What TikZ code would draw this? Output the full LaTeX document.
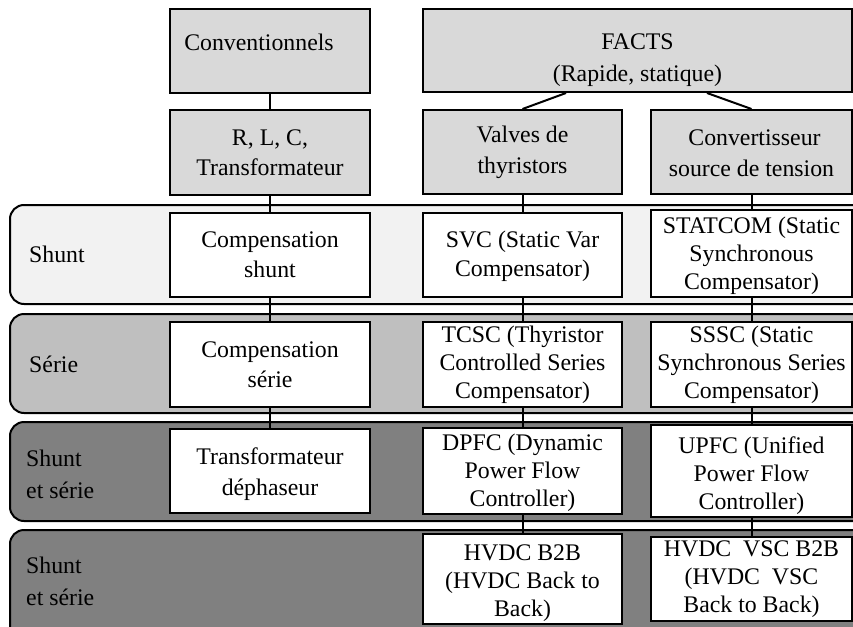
\documentclass[tikz,border=0pt]{standalone}
\usepackage{fontspec}
\setmainfont{Liberation Serif}
\definecolor{topgray}{HTML}{D9D9D9}
\definecolor{bandA}{HTML}{F2F2F2}
\definecolor{bandB}{HTML}{BFBFBF}
\definecolor{bandC}{HTML}{808080}
\newcommand{\lowerby}[1]{\rule{0pt}{#1}}
\tikzset{
  basebox/.style={draw=black, line width=2pt, align=center, inner sep=2pt,
    font=\fontsize{23.8}{29}\selectfont},
  topbox/.style={basebox, fill=topgray},
  devbox/.style={basebox, fill=white},
  band/.style={draw=black, line width=2pt, rounded corners=14pt},
  bandlabel/.style={anchor=west, align=left, inner sep=0pt,
    font=\fontsize{23.8}{32}\selectfont},
  link/.style={draw=black, line width=2pt}
}
\begin{document}
\begin{tikzpicture}[x=1pt,y=-1pt]
\useasboundingbox (0,0) rectangle (853,626);
\clip (0,0) rectangle (853,626);
% bands
\path[band, fill=bandA] (10,205) rectangle (880,304);
\path[band, fill=bandB] (10,314) rectangle (880,413);
\path[band, fill=bandC] (10,422) rectangle (880,521);
\path[band, fill=bandC] (10,530) rectangle (880,660);
% band labels
\node[bandlabel] (lshunt) at (29,254) {Shunt};
\node[bandlabel] (lserie) at (29,364) {Série};
\node[bandlabel] (lse1) at (26,474) {Shunt\\et série};
\node[bandlabel] (lse2) at (26,581) {Shunt\\et série};
% top boxes
\node[topbox, minimum width=200pt, minimum height=84pt] (conv) at (270,51)
  {\lowerby{36pt}Conventionnels\hspace*{22pt}\\\strut};
\node[topbox, minimum width=429pt, minimum height=83pt, font=\fontsize{23.8}{32}\selectfont] (facts) at (637.5,50.5)
  {\lowerby{35pt}FACTS\\(Rapide, statique)};
\node[topbox, minimum width=200pt, minimum height=85pt, font=\fontsize{23.8}{30}\selectfont] (rlc) at (270,152.5)
  {R, L, C,\\Transformateur};
\node[topbox, minimum width=199pt, minimum height=84pt, font=\fontsize{23.8}{31}\selectfont] (valves) at (522.5,152)
  {\lowerby{18pt}Valves de\\thyristors};
\node[topbox, minimum width=201pt, minimum height=84pt, font=\fontsize{23.8}{31}\selectfont] (vsc) at (751.5,152)
  {\lowerby{18pt}\hspace*{6pt}Convertisseur\\source de tension};
% row shunt
\node[devbox, minimum width=200pt, minimum height=84pt, font=\fontsize{23.8}{30}\selectfont] (cshunt) at (270,255)
  {Compensation\\shunt};
\node[devbox, minimum width=199pt, minimum height=84pt] (svc) at (522.5,255)
  {\lowerby{20pt}SVC (Static Var\\Compensator)};
\node[devbox, minimum width=201pt, minimum height=85pt, font=\fontsize{23.8}{28}\selectfont] (statcom) at (751.5,253.5)
  {\lowerby{22pt}STATCOM (Static\\Synchronous\\Compensator)};
% row serie
\node[devbox, minimum width=200pt, minimum height=85pt, font=\fontsize{23.8}{30}\selectfont] (cserie) at (270,364.5)
  {Compensation\\série};
\node[devbox, minimum width=199pt, minimum height=85pt, font=\fontsize{23.8}{28}\selectfont] (tcsc) at (522.5,364.5)
  {TCSC (Thyristor\\Controlled Series\\Compensator)};
\node[devbox, minimum width=201pt, minimum height=85pt, font=\fontsize{23.8}{28}\selectfont] (sssc) at (751.5,364.5)
  {SSSC (Static\\Synchronous Series\\Compensator)};
% row shunt et serie 1
\node[devbox, minimum width=200pt, minimum height=84pt, font=\fontsize{23.8}{31}\selectfont] (tdeph) at (270,471)
  {\lowerby{24pt}Transformateur\\déphaseur};
\node[devbox, minimum width=199pt, minimum height=84pt, font=\fontsize{23.8}{28}\selectfont] (dpfc) at (522.5,471)
  {\lowerby{20pt}DPFC (Dynamic\\Power Flow\\Controller)};
\node[devbox, minimum width=201pt, minimum height=84pt, font=\fontsize{23.8}{28}\selectfont] (upfc) at (751.5,471)
  {\lowerby{26pt}UPFC (Unified\\Power Flow\\Controller)};
% row shunt et serie 2
\node[devbox, minimum width=199pt, minimum height=84pt, font=\fontsize{23.8}{28}\selectfont] (hvdc) at (522.5,579)
  {\lowerby{24pt}HVDC B2B\\(HVDC Back to\\Back)};
\node[devbox, minimum width=201pt, minimum height=84pt, font=\fontsize{23.8}{28}\selectfont] (hvdcvsc) at (751.5,579)
  {HVDC~~VSC B2B\\(HVDC~~VSC\\Back to Back)};
% connectors
\draw[link] (conv.south) -- (rlc.north);
\draw[link] (rlc.south) -- (cshunt.north);
\draw[link] (cshunt.south) -- (cserie.north);
\draw[link] (cserie.south) -- (tdeph.north);
\draw[link] ([xshift=-71.5pt]facts.south) -- (valves.north);
\draw[link] ([xshift=69.5pt]facts.south) -- (vsc.north);
\draw[link] (valves.south) -- (svc.north);
\draw[link] (svc.south) -- (tcsc.north);
\draw[link] (tcsc.south) -- (dpfc.north);
\draw[link] (dpfc.south) -- (hvdc.north);
\draw[link] (vsc.south) -- (statcom.north);
\draw[link] (statcom.south) -- (sssc.north);
\draw[link] (sssc.south) -- (upfc.north);
\draw[link] (upfc.south) -- (hvdcvsc.north);
\end{tikzpicture}
\end{document}
